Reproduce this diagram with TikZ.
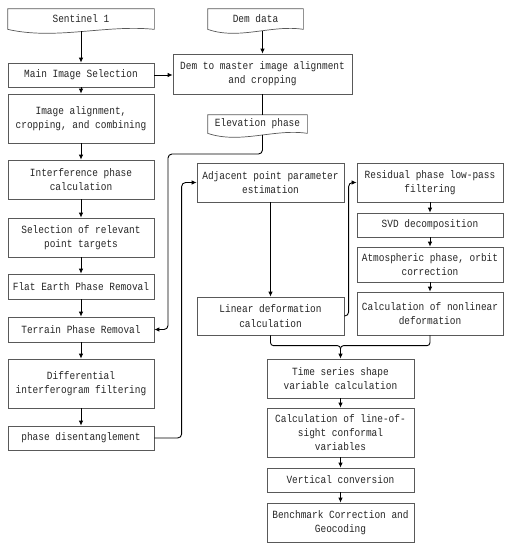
\documentclass[tikz,border=0pt]{standalone}
\usepackage{fontspec}
\setmainfont{Liberation Mono}[FakeStretch=0.86]
\usetikzlibrary{arrows.meta,calc}
\newcommand\docout[1]{%
  \draw[docline] (#1.north west) -- (#1.north east) -- (#1.south east)
    .. controls ($(#1.south east)!0.33!(#1.south west)+(0pt,5pt)$)
       and ($(#1.south east)!0.67!(#1.south west)+(0pt,-11pt)$) .. (#1.south west) -- cycle;}
\begin{document}
\begin{tikzpicture}[x=1pt,y=-1pt,
  box/.style={draw=black!65,line width=0.7pt,minimum width=146pt,align=center,inner sep=1pt,
    text=black!85,font=\fontsize{11}{14.3}\selectfont},
  doc/.style={box,draw=none},
  docline/.style={draw=black!65,line width=0.7pt},
  conn/.style={line width=0.9pt,black},
  arr/.style={conn,-{Latex[length=5pt,width=4.5pt]}}]
\useasboundingbox (0,0) rectangle (510,550);
\fill[white] (0,0) rectangle (510,550);
% documents
\node[doc,minimum height=20pt] (sent) at (81,19) {Sentinel 1};
\node[doc,minimum width=95pt,minimum height=20pt] (dd) at (255.5,19) {Dem data};
\node[doc,minimum width=99pt,minimum height=18pt] (elev) at (257.5,124) {Elevation phase};
\docout{sent}\docout{dd}\docout{elev}
% left column
\node[box,minimum height=24pt] (main) at (81,75) {Main Image Selection};
\node[box,minimum height=49pt] (align) at (81,118.5) {Image alignment,\\cropping, and combining};
\node[box,minimum height=39pt] (interf) at (81,179.5) {Interference phase\\calculation};
\node[box,minimum height=39pt] (sel) at (81,237.5) {Selection of relevant\\point targets};
\node[box,minimum height=25pt] (flat) at (81,286.5) {Flat Earth Phase Removal};
\node[box,minimum height=25pt] (terr) at (81,329.5) {Terrain Phase Removal};
\node[box,minimum height=49pt] (diff) at (81,383.5) {Differential\\interferogram filtering};
\node[box,minimum height=24pt] (phd) at (81,438) {phase disentanglement};
% dem
\node[box,minimum width=179pt,minimum height=40pt] (dem) at (262.5,74) {Dem to master image alignment\\and cropping};
% middle
\node[box,minimum width=147pt,minimum height=39pt] (adj) at (270.5,182.5) {Adjacent point parameter\\estimation};
\node[box,minimum width=147pt,minimum height=38pt] (lin) at (270.5,316) {Linear deformation\\calculation};
% right
\node[box,minimum height=39pt] (res) at (430,182.5) {Residual phase low-pass\\filtering};
\node[box,minimum height=24pt] (svd) at (430,225) {SVD decomposition};
\node[box,minimum height=35pt] (atm) at (430,264.5) {Atmospheric phase, orbit\\correction};
\node[box,minimum height=43pt] (nonlin) at (430,313.5) {Calculation of nonlinear\\deformation};
% bottom
\node[box,minimum width=147pt,minimum height=39pt] (ts) at (340.5,378.5) {Time series shape\\variable calculation};
\node[box,minimum width=147pt,minimum height=49pt] (los) at (340.5,432.5) {Calculation of line-of-\\sight conformal\\variables};
\node[box,minimum width=147pt,minimum height=24pt] (vert) at (340.5,480) {Vertical conversion};
\node[box,minimum width=147pt,minimum height=39pt] (bench) at (340.5,522.5) {Benchmark Correction and\\Geocoding};
% connectors
\draw[arr] ($(sent.south)+(0,2)$) -- (main.north);
\draw[arr] (main.south) -- (align.north);
\draw[arr] (align.south) -- (interf.north);
\draw[arr] (interf.south) -- (sel.north);
\draw[arr] (sel.south) -- (flat.north);
\draw[arr] (flat.south) -- (terr.north);
\draw[arr] (terr.south) -- (diff.north);
\draw[arr] (diff.south) -- (phd.north);
\draw[arr] (main.east) -- (main.east -| dem.west);
\draw[arr] ($(dem.north |- dd.south)+(0,1.5)$) -- (dem.north);
\draw[conn] (dem.south) -- (dem.south |- elev.north);
\draw[arr,rounded corners=4pt] ($(dem.south |- elev.south)+(0,1.5)$) |- (168,154) |- (terr.east);
\draw[arr,rounded corners=4pt] (phd.east) -| ($(adj.west)+(-15,0)$) -- (adj.west);
\draw[arr] (adj.south) -- (lin.north);
\draw[arr,rounded corners=4pt] (lin.east) -| ($(res.west)+(-8,0)$) -- (res.west);
\draw[arr] (res.south) -- (svd.north);
\draw[arr] (svd.south) -- (atm.north);
\draw[arr] (atm.south) -- (nonlin.north);
\coordinate (m) at ($(ts.north)+(0,-13)$);
\coordinate (mm) at ($(ts.north)+(0,-9)$);
\draw[conn,rounded corners=3pt] (lin.south) |- (m) -- (mm);
\draw[conn,rounded corners=3pt] (nonlin.south) |- (m) -- (mm);
\draw[arr] ($(mm)+(0,-1)$) -- (ts.north);
\draw[arr] (ts.south) -- (los.north);
\draw[arr] (los.south) -- (vert.north);
\draw[arr] (vert.south) -- (bench.north);
\end{tikzpicture}
\end{document}
